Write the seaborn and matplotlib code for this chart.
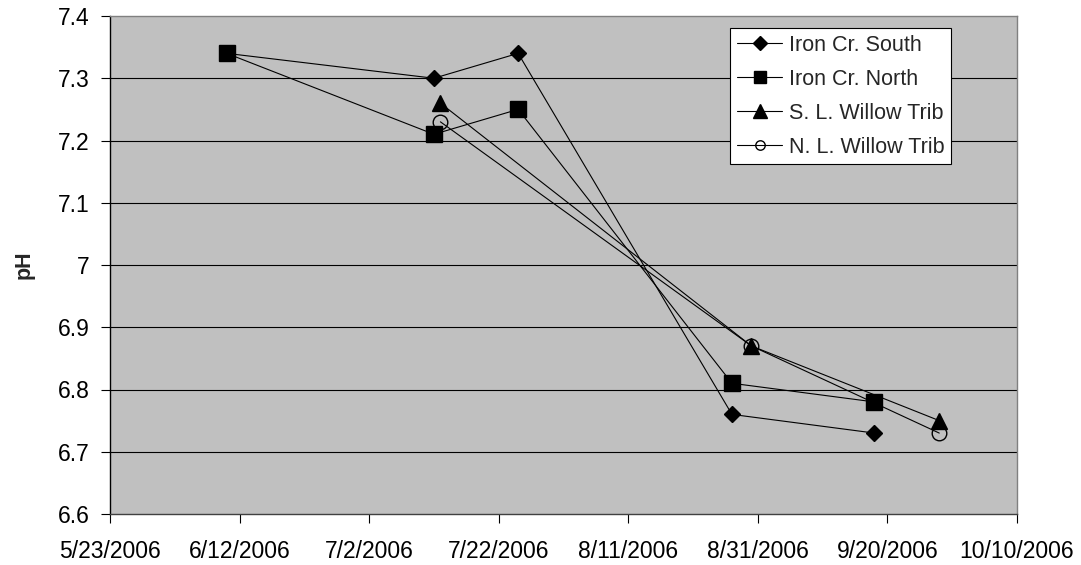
import matplotlib
matplotlib.use("Agg")
import matplotlib.pyplot as plt
import matplotlib.dates as mdates
from matplotlib.lines import Line2D
import pandas as pd
import seaborn as sns

# Sampling dates and pH readings per site
south_dates = ["2006-06-10", "2006-07-12", "2006-07-25", "2006-08-27", "2006-09-18"]
south_ph = [7.34, 7.30, 7.34, 6.76, 6.73]

north_dates = ["2006-06-10", "2006-07-12", "2006-07-25", "2006-08-27", "2006-09-18"]
north_ph = [7.34, 7.21, 7.25, 6.81, 6.78]

s_willow_dates = ["2006-07-13", "2006-08-30", "2006-09-28"]
s_willow_ph = [7.26, 6.87, 6.75]

n_willow_dates = ["2006-07-13", "2006-08-30", "2006-09-28"]
n_willow_ph = [7.23, 6.87, 6.73]

site_names = ["Iron Cr. South", "Iron Cr. North", "S. L. Willow Trib", "N. L. Willow Trib"]

x_tick_dates = ["2006-05-23", "2006-06-12", "2006-07-02", "2006-07-22",
                "2006-08-11", "2006-08-31", "2006-09-20", "2006-10-10"]
x_tick_labels = ["5/23/2006", "6/12/2006", "7/2/2006", "7/22/2006",
                 "8/11/2006", "8/31/2006", "9/20/2006", "10/10/2006"]
y_ticks = [6.6, 6.7, 6.8, 6.9, 7.0, 7.1, 7.2, 7.3, 7.4]
y_tick_labels = ["6.6", "6.7", "6.8", "6.9", "7", "7.1", "7.2", "7.3", "7.4"]

sns.set_theme(style="white")
plt.rcParams["font.family"] = ["Liberation Sans", "DejaVu Sans"]

frames = []
for name, d, v in [(site_names[0], south_dates, south_ph),
                   (site_names[1], north_dates, north_ph),
                   (site_names[2], s_willow_dates, s_willow_ph),
                   (site_names[3], n_willow_dates, n_willow_ph)]:
    frames.append(pd.DataFrame({"date": pd.to_datetime(d), "pH": v, "site": name}))
df = pd.concat(frames, ignore_index=True)

# marker shape, plot size, legend size, face colour
marker_style = {
    site_names[0]: ("D", 8.5, 7.0, "black"),
    site_names[1]: ("s", 11, 8.0, "black"),
    site_names[2]: ("^", 12, 10.5, "black"),
    site_names[3]: ("o", 10.5, 6.8, "none"),
}

fig = plt.figure(figsize=(10.81, 5.65), dpi=100)
ax = fig.add_axes([110 / 1081, 51 / 565, 907 / 1081, 498 / 565])
ax.set_facecolor("#C0C0C0")

handles = []
for name in site_names:
    mk, ms, lms, fc = marker_style[name]
    sub = df[df["site"] == name]
    sns.lineplot(data=sub, x="date", y="pH", ax=ax, sort=False, color="black",
                 linewidth=0.8, marker=mk, markersize=ms, markerfacecolor=fc,
                 markeredgecolor="black", markeredgewidth=1.0, legend=False)
    handles.append(Line2D([], [], color="black", linewidth=0.8, marker=mk,
                          markersize=lms, markerfacecolor=fc,
                          markeredgecolor="black", markeredgewidth=1.0))

ax.set_xlim(pd.Timestamp(x_tick_dates[0]), pd.Timestamp(x_tick_dates[-1]))
ax.set_ylim(6.6, 7.4)
ax.set_xticks([mdates.date2num(pd.Timestamp(t)) for t in x_tick_dates])
ax.set_xticklabels(x_tick_labels)
ax.set_yticks(y_ticks)
ax.set_yticklabels(y_tick_labels)

for y in y_ticks[1:-1]:
    ax.axhline(y, color="black", linewidth=0.8, zorder=0.5)

ax.tick_params(axis="both", which="major", labelsize=16.5, colors="black",
               direction="out", length=6.5, width=0.8, bottom=True, left=True)
ax.tick_params(axis="x", pad=12)
ax.tick_params(axis="y", pad=8)

ax.set_xlabel("")
ax.set_ylabel("pH", fontsize=15.5, fontweight="bold", labelpad=17)

for side, col in [("left", "black"), ("bottom", "#404040"), ("top", "#808080"), ("right", "#808080")]:
    ax.spines[side].set_visible(True)
    ax.spines[side].set_color(col)
    ax.spines[side].set_linewidth(1.0)

leg = ax.legend(handles, site_names, loc="upper left", bbox_to_anchor=(0.684, 0.976),
                borderaxespad=0, fontsize=15.5, frameon=True, fancybox=False,
                framealpha=1, edgecolor="black", facecolor="white",
                handlelength=2.1, handletextpad=0.3, labelspacing=0.6, borderpad=0.32)
leg.get_frame().set_linewidth(0.8)

fig.savefig("out.png", dpi=100)
